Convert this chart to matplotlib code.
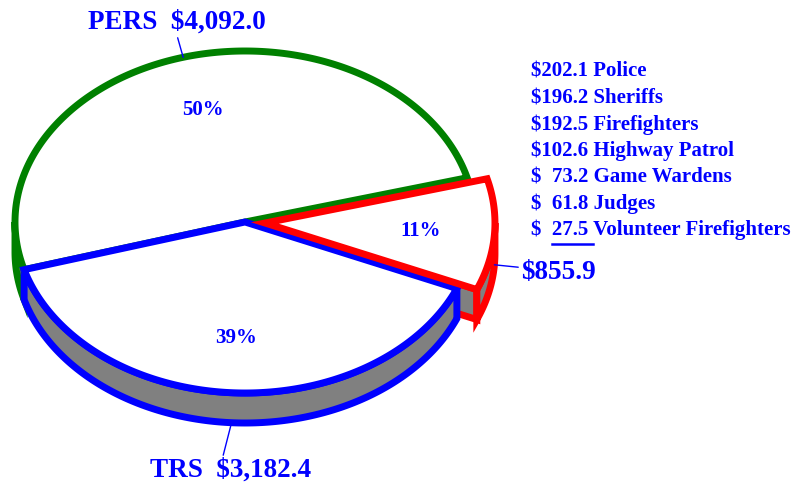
import numpy as np
import matplotlib.pyplot as plt
from matplotlib.patches import Polygon

plt.rcParams['font.family'] = ['Liberation Serif', 'DejaVu Serif']
plt.rcParams['font.weight'] = 'bold'

# Retirement system assets (millions)
systems = ["PERS", "TRS", "Other"]
system_values = [4092.0, 3182.4]
system_colors = ["green", "blue", "red"]

# Breakdown of the small systems
other_groups = ["Police", "Sheriffs", "Firefighters", "Highway Patrol",
                "Game Wardens", "Judges", "Volunteer Firefighters"]
other_values = [202.1, 196.2, 192.5, 102.6, 73.2, 61.8, 27.5]

values = system_values + [sum(other_values)]
explode = [0, 0, 20]

# pie geometry in pixels
CX, CY = 245, 222
A, B = 230, 171
DEPTH = 30
START = 15.0
LW = 5
SIDE = "#808080"


def rim(cx, cy, t, dz=0):
    t = np.radians(t)
    return cx + A * np.cos(t), cy - B * np.sin(t) + dz


def arc(cx, cy, t1, t2, dz=0):
    ts = np.linspace(t1, t2, 200)
    x, y = rim(cx, cy, ts, dz)
    return np.column_stack([x, y])


fig = plt.figure(figsize=(8.02, 4.82), dpi=100)
ax = fig.add_axes([0, 0, 1, 1])
ax.set_xlim(0, 802)
ax.set_ylim(482, 0)
ax.axis("off")

total = sum(values)
angles = [START]
for v in values:
    angles.append(angles[-1] + v / total * 360)

slices = []
for i, v in enumerate(values):
    t1, t2 = angles[i], angles[i + 1]
    mid = np.radians((t1 + t2) / 2)
    cx = CX + explode[i] * np.cos(mid)
    cy = CY - explode[i] * B / A * np.sin(mid)
    slices.append((t1, t2, cx, cy, system_colors[i]))

# radial cut faces of exploded slices
for i, (t1, t2, cx, cy, col) in enumerate(slices):
    if explode[i] == 0:
        continue
    for t, nrm in [(t1, t1 - 90), (t2, t2 + 90)]:
        if np.sin(np.radians(nrm)) < 0:
            rx, ry = rim(cx, cy, t)
            pts = [(cx, cy), (rx, ry), (rx, ry + DEPTH), (cx, cy + DEPTH)]
            ax.add_patch(Polygon(pts, closed=True, fc=SIDE, ec=col, lw=LW,
                                 joinstyle="miter"))

# outer side faces (front half only)
for t1, t2, cx, cy, col in slices:
    for lo_lim, hi_lim in [(180, 360), (540, 720)]:
        lo, hi = max(t1, lo_lim), min(t2, hi_lim)
        if hi <= lo:
            continue
        top = arc(cx, cy, lo, hi)
        bot = arc(cx, cy, hi, lo, DEPTH)
        ax.add_patch(Polygon(np.vstack([top, bot]), closed=True, fc=SIDE,
                             ec=col, lw=LW, joinstyle="miter"))

# top faces
for t1, t2, cx, cy, col in slices:
    pts = np.vstack([[cx, cy], arc(cx, cy, t1, t2)])
    ax.add_patch(Polygon(pts, closed=True, fc="white", ec=col, lw=LW,
                         joinstyle="miter"))

# percentage labels
for v, (t1, t2, cx, cy, col) in zip(values, slices):
    mid = np.radians((t1 + t2) / 2)
    px = cx + 0.68 * A * np.cos(mid)
    py = cy - 0.68 * B * np.sin(mid)
    ax.text(px, py, f"{v / total * 100:.0f}%", color="blue", fontsize=15,
            ha="center", va="center")

# name labels with leader lines
name_text = [f"{systems[0]}  ${values[0]:,.1f}",
             f"{systems[1]}  ${values[1]:,.1f}",
             f"${values[2]:,.1f}"]
label_pos = [(88, 29), (150, 477), (521, 279)]
rel = [(0.5, 0.0), (0.45, 1.0), (0.0, 0.7)]
for i, (t1, t2, cx, cy, col) in enumerate(slices):
    mid = (t1 + t2) / 2
    dz = DEPTH if np.sin(np.radians(mid)) < 0 else 0
    anchor = rim(cx, cy, mid, dz)
    ax.annotate(name_text[i], xy=anchor, xytext=label_pos[i],
                color="blue", fontsize=19.5, ha="left", va="baseline",
                arrowprops=dict(arrowstyle="-", color="blue", lw=1,
                                shrinkA=0, shrinkB=0, relpos=rel[i]))

# breakdown list
list_x, list_y, step = 531, 77, 26.4
for k, (g, v) in enumerate(zip(other_groups, other_values)):
    num = f"{v:.1f}"
    if v < 100:
        num = "  " + num
    ax.text(list_x, list_y + k * step, f"${num} {g}", color="blue",
            fontsize=15, ha="left", va="baseline")

# underline the last amount
fig.canvas.draw()
renderer = fig.canvas.get_renderer()


def width(s):
    t = ax.text(0, 0, s, fontsize=15)
    w = t.get_window_extent(renderer).width
    t.remove()
    return w


last = f"{other_values[-1]:.1f}"
x0 = width("$  " + last) - width(last)
x1 = width("$  " + last + " V") - width("V")
uy = list_y + (len(other_values) - 1) * step + 9
ax.plot([list_x + x0, list_x + x1], [uy, uy], color="blue", lw=1.8)

fig.savefig("out.png", dpi=100)
